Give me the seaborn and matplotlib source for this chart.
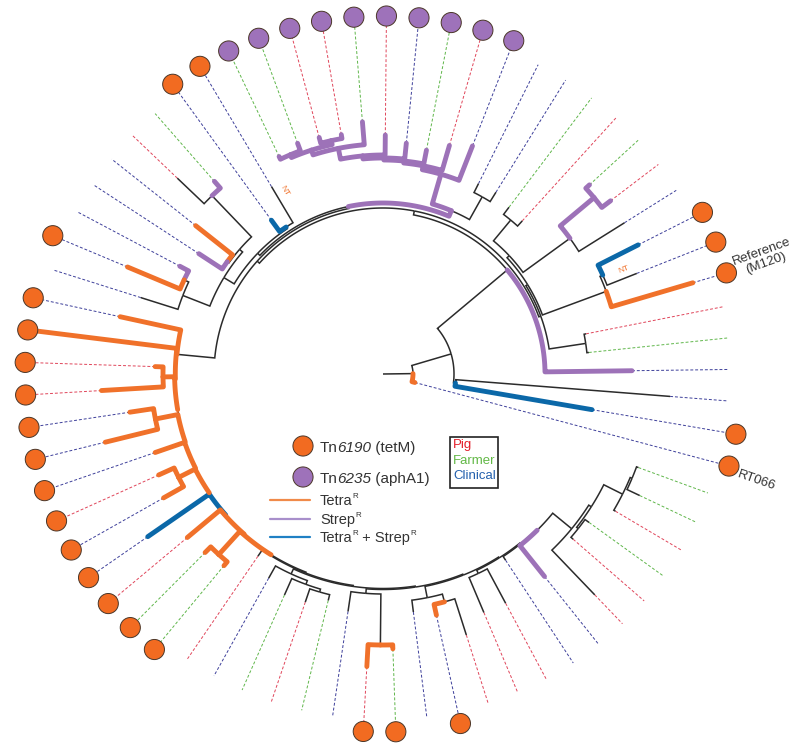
import numpy as np
import pandas as pd
import matplotlib
matplotlib.use("Agg")
import matplotlib.pyplot as plt
from matplotlib.collections import LineCollection
from matplotlib.patches import Rectangle
import seaborn as sns

sns.set_theme(style="white")
plt.rcParams['font.family'] = ['Liberation Sans', 'DejaVu Sans']

# ---- tips, in circular order starting with the outgroup (RT066) ----
n_tips = 69
tip_start = -14.9   # angle of the first tip, degrees

tip_parent = ['A', 'C', 'C', 'D', 'H', 'H', 'J', 'K', 'K', 'M',
              'N', 'N', 'O', 'O', 'P', 'P', 'PB', 'PC', 'PD', 'PE',
              'PF', 'PG', 'PI', 'PI', 'PJ', 'PJ', 'R', 'R', 'S', 'S',
              'U', 'U', 'Xn', 'Xn', 'W', 'X1', 'X2', 'O4', 'O4', 'Y',
              'Y', 'X5', 'Z', 'Z', 'X7', 'X8', 'O10', 'O10', 'BB1', 'B1',
              'B1b', 'B1c', 'B1c', 'B2', 'AE', 'AE', 'B3', 'B4', 'B4', 'B5',
              'B5', 'BB6', 'B11', 'B6', 'B7a', 'B7a', 'B8', 'B10', 'B10']
tip_radius = [33, 212, 288, 249, 207, 207, 323, 273, 286, 285,
              286, 280, 207, 209, 214, 213, 245, 238, 228, 232,
              239, 253, 243, 245, 246, 241, 218, 190, 256, 284,
              239, 220, 230, 277, 254, 269, 349, 228, 282, 256,
              286, 241, 246, 252, 286, 255, 252, 249, 221, 234,
              242, 241, 233, 240, 293, 275, 240, 247, 274, 259,
              260, 223, 259, 306, 252, 254, 270, 284, 272]
# resistance phenotype of the terminal branch
tip_pheno = ['tet', 'both', '', 'str', '', '', 'tet', '', 'both', '',
             'str', 'str', '', '', '', '', 'str', 'str', 'str', 'str',
             'str', 'str', 'str', 'str', 'str', 'str', '', 'both', 'str', '',
             'tet', 'str', 'str', 'tet', '', 'tet', 'tet', 'tet', 'tet', 'tet',
             'tet', 'tet', 'tet', 'tet', 'both', 'tet', 'tet', 'tet', '', '',
             '', '', '', '', 'tet', 'tet', '', 'tet', '', '',
             '', '', 'str', '', '', '', '', '', '']
# isolate source: P = pig, F = farmer, C = clinical
tip_source = ['C', 'C', 'C', 'C', 'F', 'P', 'C', 'C', 'C', 'C',
              'P', 'F', 'P', 'F', 'C', 'C', 'C', 'P', 'F', 'C',
              'P', 'F', 'P', 'P', 'F', 'F', 'C', 'C', 'F', 'P',
              'C', 'C', 'C', 'C', 'C', 'C', 'C', 'P', 'P', 'C',
              'C', 'C', 'P', 'C', 'C', 'P', 'F', 'F', 'P', 'C',
              'F', 'P', 'F', 'C', 'P', 'F', 'C', 'C', 'P', 'P',
              'P', 'C', 'C', 'P', 'P', 'F', 'P', 'F', 'F']
# transposon carried: tet = Tn6190 (tetM), aph = Tn6235 (aphA1)
tip_element = ['tet', 'tet', '', '', '', '', 'tet', 'tet', 'tet', '',
               '', '', '', '', '', '', 'aph', 'aph', 'aph', 'aph',
               'aph', 'aph', 'aph', 'aph', 'aph', 'aph', 'tet', 'tet', '', '',
               '', '', '', 'tet', '', 'tet', 'tet', 'tet', 'tet', 'tet',
               'tet', 'tet', 'tet', 'tet', 'tet', 'tet', 'tet', 'tet', '', '',
               '', '', '', '', 'tet', 'tet', '', 'tet', '', '',
               '', '', '', '', '', '', '', '', '']
tip_labels = {0: 'RT066', 6: 'Reference\n(M120)'}
nt_tips = [7, 26]

# ---- internal nodes ----
node_names = ['root', 'A', 'B', 'C', 'D', 'F', 'F1', 'H', 'F1b', 'J', 'K', 'F1c',
              'M', 'N', 'O', 'F2', 'F2a', 'Q', 'P', 'PB', 'PC', 'PD', 'PE', 'PF',
              'PG', 'PH', 'PI', 'PJ', 'F2a2', 'R', 'V', 'T', 'S', 'U', 'W', 'Xn',
              'X1', 'X2', 'X3', 'O4', 'X4', 'Y', 'X5', 'X6', 'Z', 'X7', 'X8', 'X9',
              'O10', 'BB1', 'BB2', 'B1', 'B1b', 'B1c', 'BB3', 'B2', 'AE', 'BB4',
              'B3', 'B4', 'BB5', 'B5', 'BB6', 'B11', 'B6', 'B7', 'B7a', 'B8', 'B10']
node_parent = [None, 'root', 'A', 'B', 'B', 'D', 'F', 'F1', 'F1', 'F1b', 'J', 'F1b',
               'F1c', 'M', 'F1c', 'F', 'F2', 'F2a', 'Q', 'Q', 'PB', 'PC', 'PD', 'PE',
               'PF', 'PG', 'PH', 'PH', 'F2a', 'F2a2', 'F2a2', 'V', 'T', 'T', 'V', 'W',
               'F2', 'X1', 'X2', 'X3', 'X3', 'X4', 'X4', 'X5', 'X6', 'X6', 'X7', 'X8',
               'X9', 'X9', 'BB1', 'BB2', 'B1', 'B1b', 'BB2', 'BB3', 'B2', 'BB3',
               'BB4', 'B3', 'BB4', 'BB5', 'BB5', 'BB6', 'B11', 'B6', 'B7', 'B7', 'B8']
node_radius = [0, 30, 71, 73, 162, 166, 168, 205, 170, 238, 241, 173,
               231, 275, 200, 169, 171, 177, 203, 208, 212, 214, 216, 219,
               230, 235, 239, 238, 174, 176, 186, 190, 247, 192, 215, 220,
               207, 207.7, 208.4, 220, 209.1, 232, 209.8, 210.5, 229, 211.2, 211.9, 212.6,
               244, 213.5, 214.5, 220, 224, 227, 215.5, 220, 271, 216.5,
               228, 236, 217.5, 221, 218.5, 219.5, 244, 247, 249, 268, 270]
node_pheno = ['', '', '', '', '', '', '', '', '', '', '', '',
              '', 'str', '', '', '', 'str', '', 'str', 'str', 'str', 'str', 'str',
              'str', 'str', 'str', 'str', '', '', '', '', '', '', '', '',
              '', '', '', 'tet', '', 'tet', '', '', 'tet', '', '', '',
              'tet', '', '', '', '', '', '', '', '', '',
              '', '', '', '', '', '', '', '', '', '', '']

pheno_colours = {'tet': '#f0712a', 'str': '#9d72b8', 'both': '#0b68a8'}
source_colours = {'P': '#e0455a', 'F': '#5fb64a', 'C': '#3d3f9a'}
element_colours = {'tet': '#f26b21', 'aph': '#9e72ba'}

# ---- assemble tree ----
tip_names = [f't{i}' for i in range(n_tips)]
parent = dict(zip(tip_names, tip_parent)) | dict(zip(node_names, node_parent))
radius = dict(zip(tip_names, tip_radius)) | dict(zip(node_names, node_radius))
pheno = dict(zip(tip_names, tip_pheno)) | dict(zip(node_names, node_pheno))
children = {n: [] for n in parent}
for n, p in parent.items():
    if p is not None:
        children[p].append(n)

angle = {t: tip_start + i * 360.0 / n_tips for i, t in enumerate(tip_names)}


def set_angle(n):
    if n not in angle:
        a = sorted(set_angle(c) for c in children[n])
        angle[n] = 0.5 * (a[0] + a[-1])
    return angle[n]


set_angle('root')


def polar(r, deg):
    t = np.deg2rad(deg)
    return r * np.cos(t), r * np.sin(t)


fig = plt.figure(figsize=(8, 7.51), dpi=100)
ax = fig.add_axes([0, 0, 1, 1])
ax.set_xlim(-383, 417)
ax.set_ylim(-377, 374)
ax.set_aspect('equal')
ax.axis('off')

# dashed leaders from tips to the outer ring
for i, t in enumerate(tip_names):
    r_end = 349 if tip_element[i] else 346
    if radius[t] >= r_end:
        continue
    x, y = polar(np.array([radius[t], r_end]), angle[t])
    ax.plot(x, y, ls=(0, (3, 2)), lw=0.7, color=source_colours[tip_source[i]], zorder=1)

# branches: arc on the parent's radius + radial segment
black_paths, col_paths, col_cols = [], [], []
for n, p in parent.items():
    if p is None:
        continue
    span = abs(angle[n] - angle[p])
    th = np.linspace(angle[p], angle[n], int(span * 2) + 2)
    xs, ys = polar(radius[p], th)
    x2, y2 = polar(radius[n], angle[n])
    path = np.column_stack([np.append(xs, x2), np.append(ys, y2)])
    if pheno[n]:
        col_paths.append(path)
        col_cols.append(pheno_colours[pheno[n]])
    else:
        black_paths.append(path)

ax.add_collection(LineCollection(black_paths, colors='#2b2b2b', linewidths=1.1,
                                 capstyle='butt', joinstyle='miter', zorder=2))
ax.add_collection(LineCollection(col_paths, colors=col_cols, linewidths=3.5,
                                 capstyle='round', joinstyle='round', zorder=3))

# transposon circles
circ = pd.DataFrame({
    'x': [polar(358, angle[t])[0] for t in tip_names],
    'y': [polar(358, angle[t])[1] for t in tip_names],
    'element': tip_element,
})
circ = circ[circ['element'] != '']
sns.scatterplot(data=circ, x='x', y='y', hue='element', palette=element_colours,
                s=210, edgecolor='#4a3628', linewidth=0.7, legend=False, ax=ax, zorder=5)

# tip labels
for i, lab in tip_labels.items():
    a = angle[tip_names[i]]
    if i == 0:
        x, y = polar(369, a - 0.8)
        ax.text(x, y, lab, rotation=-19, ha='left', va='center', fontsize=9.5,
                color='#333333', rotation_mode='anchor')
    else:
        x, y = polar(398, a + 0.6)
        ax.text(x, y, lab, rotation=20, ha='center', va='center', fontsize=9.5,
                color='#333333', multialignment='center', linespacing=1.0)

for i in nt_tips:
    a = angle[tip_names[i]]
    if a > 90:
        x, y = polar(radius[tip_names[i]] - 10, a - 2.6)
        rot = a - 180
    else:
        x, y = polar(radius[tip_names[i]] - 10, a + 1.8)
        rot = a
    ax.text(x, y, 'NT', rotation=rot, ha='center', va='center', fontsize=6,
            color='#f0712a')


def rich_text(x, y, parts, size, **kw):
    # pieces of (text, style, relative size, rise in points) on one line;
    # y is the bottom of the first piece
    first = ax.text(x, y, parts[0][0], style=parts[0][1], fontsize=size,
                    va='bottom', **kw)
    prev = first
    for s, st, rel, rise in parts[1:]:
        prev = ax.annotate(s, xy=(1, 0), xycoords=(prev, first),
                           xytext=(-0.6 if st == 'italic' else 0, rise),
                           textcoords='offset points', ha='left', va='bottom',
                           style=st, fontsize=size * rel, **kw)
    return first


# legend
leg_el = pd.DataFrame({'x': [-80, -80], 'y': [-72, -103], 'element': ['tet', 'aph']})
sns.scatterplot(data=leg_el, x='x', y='y', hue='element', palette=element_colours,
                s=210, edgecolor='#4a3628', linewidth=0.7, legend=False, ax=ax, zorder=5)
rich_text(-63, -81, [('Tn', 'normal', 1, 0), ('6190', 'italic', 1, 0),
                     (' (tetM)', 'normal', 1, 0)], 11, color='#333333')
rich_text(-63, -112, [('Tn', 'normal', 1, 0), ('6235', 'italic', 1, 0),
                      (' (aphA1)', 'normal', 1, 0)], 11, color='#333333')

sup = ('R', 'normal', 0.55, 5.5)
leg_lines = [('tet', [('Tetra', 'normal', 1, 0), sup], -126),
             ('str', [('Strep', 'normal', 1, 0), sup], -145),
             ('both', [('Tetra', 'normal', 1, 0), sup, (' + Strep', 'normal', 1, 0), sup], -163)]
leg_line_cols = {'tet': '#f08a4a', 'str': '#a88fcb', 'both': '#1f80c4'}
for key, parts, y in leg_lines:
    ax.plot([-113, -73], [y, y], color=leg_line_cols[key], lw=1.6, zorder=4)
    rich_text(-63, y - 8, parts, 10.5, color='#333333')

ax.add_patch(Rectangle((67, -114), 48, 51, fill=False, ec='#222222', lw=1.2, zorder=4))
for lab, key, y in [('Pig', 'P', -71), ('Farmer', 'F', -87), ('Clinical', 'C', -102)]:
    ax.text(70, y, lab, fontsize=9.5, va='center', color={'P': '#e31e2a', 'F': '#62b846',
                                                          'C': '#2360ad'}[key])

fig.savefig('out.png', dpi=100)
